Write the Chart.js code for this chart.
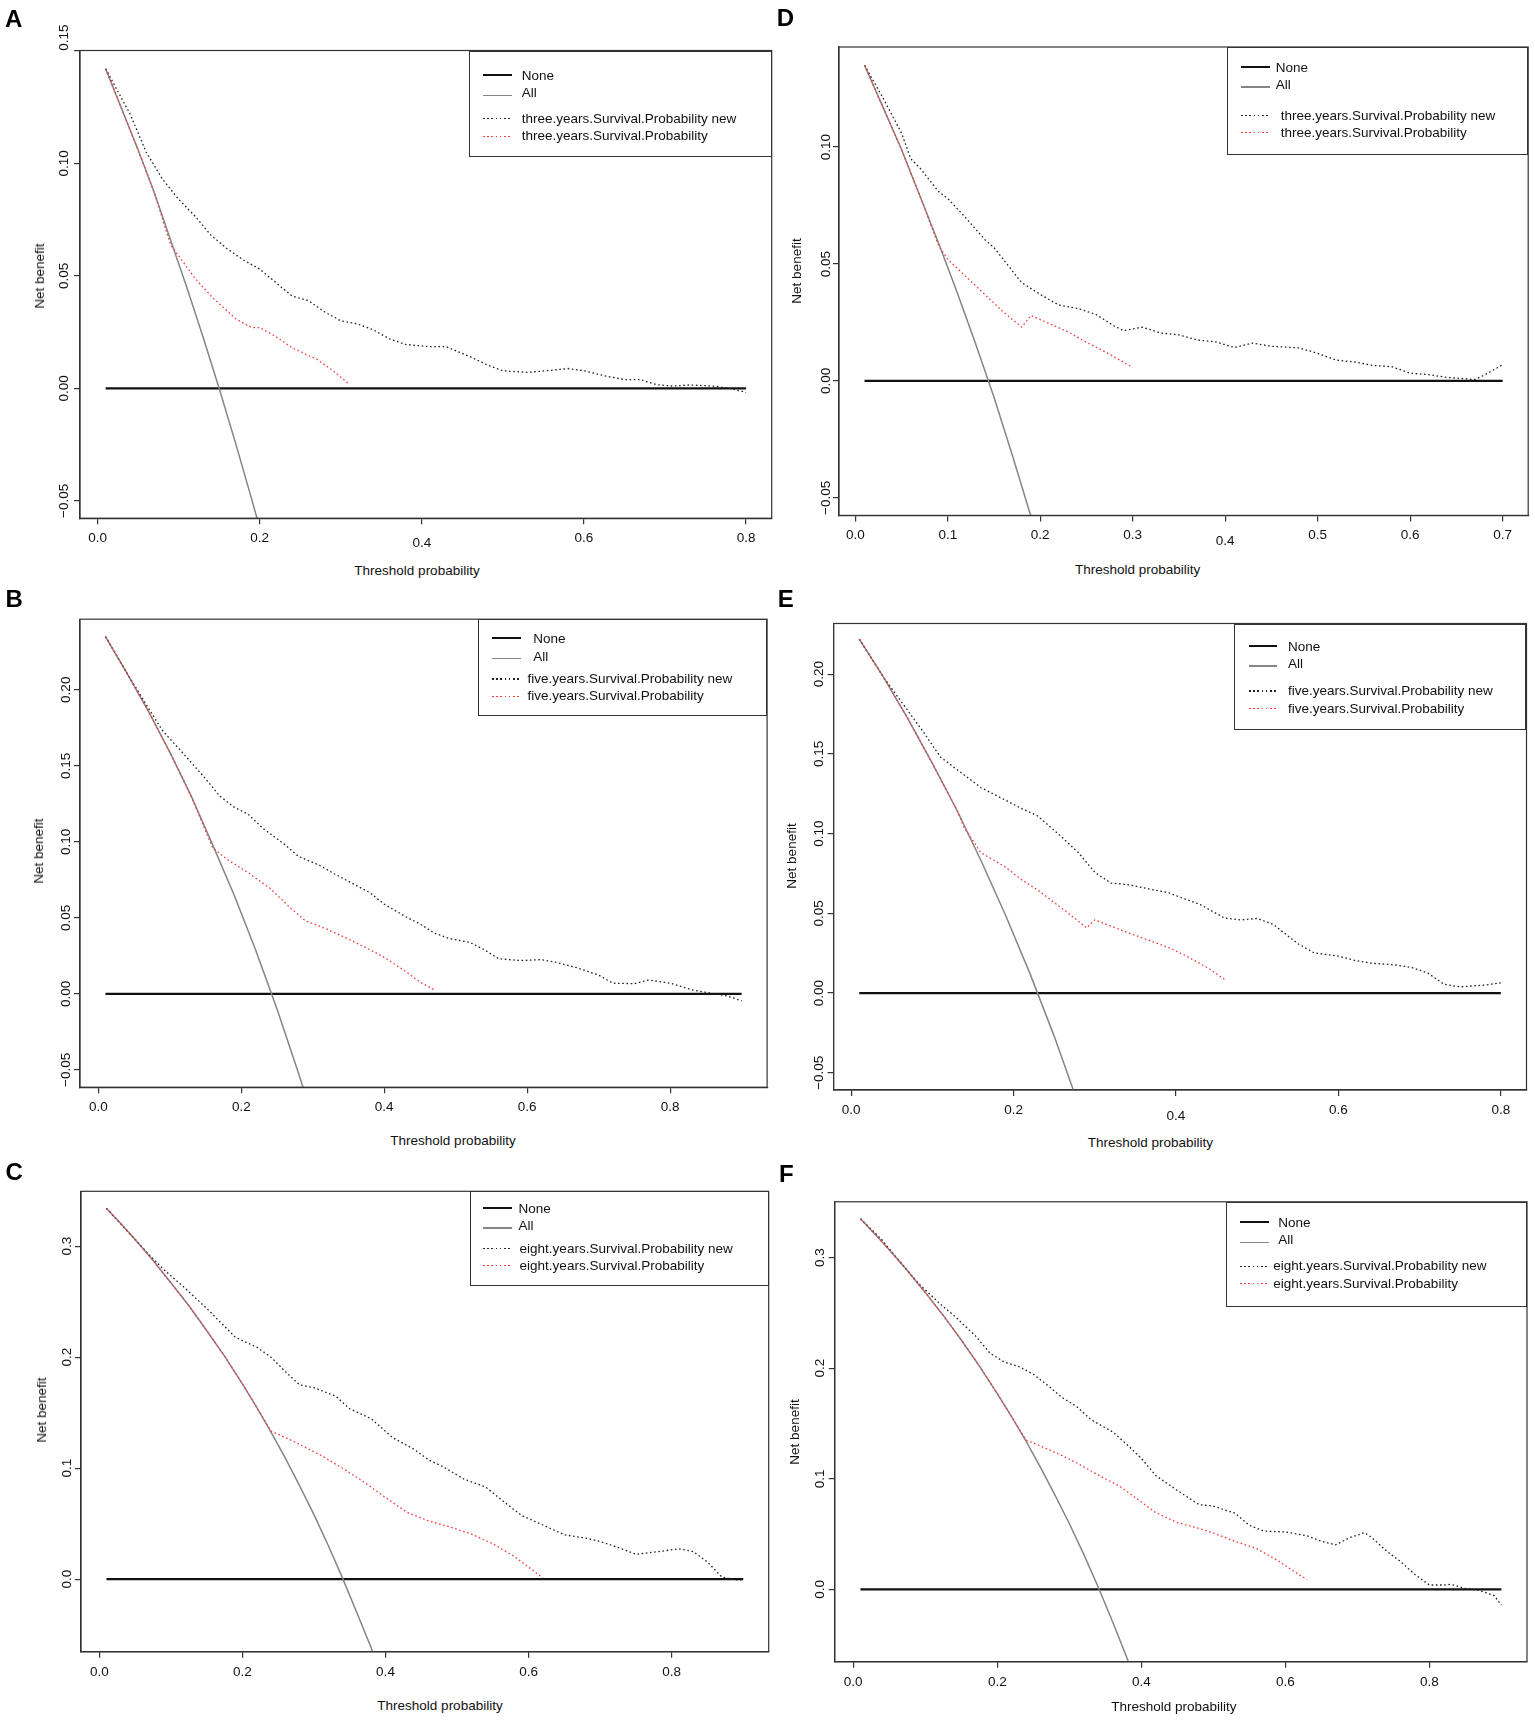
<!DOCTYPE html>
<html><head><meta charset="utf-8">
<script src="https://cdn.jsdelivr.net/npm/chart.js@4.4.1/dist/chart.umd.min.js"></script>
<style>
html,body{margin:0;padding:0;background:#fff;}
#page{position:relative;width:1535px;height:1720px;overflow:hidden;background:#fff;font-family:"Liberation Sans",Arial,Helvetica,sans-serif;color:#111;}
canvas{position:absolute;}
.lbl{position:absolute;white-space:nowrap;font-size:13.5px;line-height:16px;}
.letter{position:absolute;font-weight:bold;font-size:24px;line-height:24px;color:#000;}
.leg{position:absolute;border:1.3px solid #333;box-sizing:border-box;}
.ln{position:absolute;}
</style></head><body><div id="page"></div>
<script>
// ---------- tick labels ----------
const xTicks08 = [0, 0.2, 0.4, 0.6, 0.8];
const xTicks07 = [0, 0.1, 0.2, 0.3, 0.4, 0.5, 0.6, 0.7];
const yTicksA = [-0.05, 0, 0.05, 0.10, 0.15];
const yTicksD = [-0.05, 0, 0.05, 0.10];
const yTicksBE = [-0.05, 0, 0.05, 0.10, 0.15, 0.20];
const yTicksCF = [0, 0.1, 0.2, 0.3];

// ---------- legend labels ----------
const legend3y = ['None', 'All', 'three.years.Survival.Probability new', 'three.years.Survival.Probability'];
const legend5y = ['None', 'All', 'five.years.Survival.Probability new', 'five.years.Survival.Probability'];
const legend8y = ['None', 'All', 'eight.years.Survival.Probability new', 'eight.years.Survival.Probability'];

// ---------- panel A ----------
const thrA_none = [0.01, 0.80];
const nbA_none = [0, 0];
const thrA_all = [0.01,0.03,0.05,0.07,0.09,0.11,0.13,0.15,0.17,0.19,0.21];
const nbA_all = [0.142,0.124,0.106,0.087,0.066,0.045,0.023,0.000,-0.024,-0.049,-0.075];
const thrA_old = [0.01,0.03,0.05,0.07,0.09,0.10,0.12,0.14,0.17,0.19,0.20,0.22,0.24,0.27,0.29,0.31];
const nbA_old = [0.142,0.124,0.106,0.087,0.064,0.059,0.049,0.041,0.031,0.027,0.027,0.023,0.018,0.013,0.008,0.002];
const thrA_new = [0.01,0.04,0.06,0.08,0.10,0.12,0.14,0.16,0.18,0.20,0.22,0.24,0.26,0.28,0.30,0.32,0.34,0.36,0.38,0.41,0.43,0.46,0.48,0.50,0.53,0.56,0.58,0.60,0.63,0.65,0.67,0.69,0.71,0.73,0.76,0.78,0.80];
const nbA_new = [0.142,0.122,0.105,0.093,0.084,0.0766,0.068,0.062,0.057,0.053,0.047,0.041,0.039,0.034,0.030,0.0287,0.026,0.022,0.0195,0.0185,0.0185,0.014,0.0105,0.0078,0.0071,0.008,0.0088,0.0078,0.0052,0.0039,0.0039,0.0016,0.001,0.0015,0.001,0.0,-0.0018];

// ---------- panel B ----------
const thrB_none = [0.01, 0.90];
const nbB_none = [0, 0];
const thrB_all = [0.01,0.04,0.07,0.10,0.13,0.16,0.19,0.22,0.25,0.28,0.31];
const nbB_all = [0.235,0.211,0.186,0.159,0.130,0.098,0.065,0.029,-0.010,-0.052,-0.097];
const thrB_old = [0.01,0.04,0.07,0.10,0.13,0.16,0.18,0.21,0.24,0.27,0.29,0.32,0.35,0.38,0.40,0.43,0.45,0.47];
const nbB_old = [0.235,0.211,0.186,0.159,0.130,0.096,0.0885,0.0796,0.0695,0.056,0.048,0.0425,0.036,0.029,0.024,0.0147,0.0078,0.0026];
const thrB_new = [0.01,0.04,0.07,0.09,0.12,0.15,0.17,0.19,0.21,0.23,0.26,0.28,0.31,0.33,0.36,0.38,0.40,0.43,0.45,0.47,0.49,0.52,0.54,0.56,0.59,0.62,0.64,0.67,0.70,0.72,0.75,0.77,0.80,0.83,0.86,0.88,0.90];
const nbB_new = [0.235,0.211,0.188,0.173,0.1575,0.1415,0.130,0.1228,0.118,0.109,0.0985,0.0904,0.0844,0.079,0.0715,0.0665,0.059,0.0507,0.046,0.040,0.0365,0.0338,0.029,0.0231,0.0219,0.0225,0.0208,0.0171,0.0123,0.007,0.0067,0.0091,0.007,0.0026,0.0002,-0.0014,-0.0046];

// ---------- panel C ----------
const thrC_none = [0.01, 0.90];
const nbC_none = [0, 0];
const thrC_all = [0.01,0.03,0.05,0.075,0.10,0.125,0.15,0.175,0.20,0.22,0.24,0.26,0.28,0.30,0.32,0.34,0.36,0.38,0.40];
const nbC_all = [0.334,0.3203,0.306,0.2872,0.267,0.2465,0.224,0.2009,0.176,0.1547,0.1325,0.1091,0.084,0.0581,0.0304,0.001,-0.0302,-0.0617,-0.099];
const thrC_old = [0.01,0.03,0.05,0.075,0.10,0.125,0.15,0.175,0.20,0.22,0.24,0.27,0.31,0.34,0.37,0.40,0.43,0.46,0.49,0.52,0.55,0.58,0.60,0.62];
const nbC_old = [0.334,0.3203,0.306,0.2872,0.267,0.2465,0.224,0.2009,0.176,0.1547,0.1335,0.1246,0.1115,0.0999,0.0875,0.0735,0.0603,0.0525,0.0471,0.0406,0.032,0.0205,0.0109,0.001];
const thrC_new = [0.01,0.04,0.07,0.09,0.12,0.15,0.17,0.19,0.22,0.24,0.26,0.28,0.30,0.33,0.35,0.38,0.41,0.44,0.46,0.48,0.51,0.54,0.57,0.59,0.62,0.65,0.68,0.70,0.73,0.75,0.78,0.81,0.83,0.85,0.87,0.89,0.90];
const nbC_new = [0.334,0.313,0.292,0.279,0.262,0.244,0.231,0.218,0.209,0.200,0.187,0.175,0.1725,0.165,0.1535,0.1445,0.1275,0.117,0.1075,0.1015,0.090,0.083,0.0675,0.0575,0.0488,0.040,0.037,0.034,0.0274,0.0224,0.0247,0.0274,0.0249,0.0155,0.002,-0.0007,-0.0007];

// ---------- panel D ----------
const thrD_none = [0.01, 0.70];
const nbD_none = [0, 0];
const thrD_all = [0.01,0.03,0.05,0.07,0.09,0.11,0.13,0.15,0.17,0.19,0.21];
const nbD_all = [0.135,0.117,0.099,0.079,0.059,0.038,0.016,-0.007,-0.032,-0.058,-0.084];
const thrD_old = [0.01,0.03,0.05,0.07,0.09,0.10,0.12,0.14,0.16,0.18,0.19,0.21,0.23,0.25,0.27,0.30];
const nbD_old = [0.135,0.117,0.099,0.079,0.058,0.052,0.0445,0.037,0.0295,0.023,0.028,0.0245,0.021,0.0165,0.0125,0.0058];
const thrD_new = [0.01,0.03,0.05,0.06,0.07,0.09,0.10,0.12,0.14,0.15,0.16,0.18,0.20,0.21,0.22,0.24,0.26,0.28,0.29,0.31,0.33,0.35,0.37,0.39,0.41,0.43,0.45,0.48,0.50,0.52,0.54,0.56,0.58,0.60,0.62,0.64,0.67,0.68,0.70];
const nbD_new = [0.135,0.121,0.106,0.095,0.091,0.081,0.078,0.0695,0.0605,0.057,0.052,0.042,0.037,0.0347,0.0325,0.031,0.0285,0.0235,0.0215,0.023,0.0205,0.0197,0.0175,0.0167,0.0143,0.0162,0.0148,0.0141,0.0118,0.0089,0.0081,0.0066,0.0061,0.0033,0.0027,0.0015,0.0006,0.0025,0.0069];

// ---------- panel E ----------
const thrE_none = [0.01, 0.80];
const nbE_none = [0, 0];
const thrE_all = [0.01,0.04,0.07,0.10,0.13,0.16,0.19,0.22,0.25,0.28,0.31];
const nbE_all = [0.222,0.198,0.172,0.144,0.115,0.083,0.049,0.0125,-0.027,-0.070,-0.116];
const thrE_old = [0.01,0.04,0.07,0.10,0.13,0.14,0.16,0.19,0.21,0.23,0.26,0.28,0.29,0.30,0.32,0.34,0.37,0.39,0.41,0.44,0.46];
const nbE_old = [0.222,0.198,0.172,0.144,0.115,0.103,0.088,0.079,0.071,0.0645,0.053,0.045,0.0408,0.0459,0.042,0.038,0.0325,0.0287,0.024,0.0155,0.0085];
const thrE_new = [0.01,0.04,0.07,0.09,0.11,0.14,0.16,0.19,0.21,0.23,0.26,0.28,0.30,0.32,0.34,0.37,0.39,0.41,0.43,0.46,0.48,0.50,0.52,0.55,0.57,0.60,0.62,0.64,0.67,0.69,0.71,0.73,0.75,0.78,0.80];
const nbE_new = [0.222,0.198,0.177,0.163,0.148,0.1365,0.1288,0.121,0.1157,0.111,0.0975,0.088,0.0757,0.069,0.0681,0.065,0.0631,0.0592,0.0555,0.047,0.0459,0.0468,0.043,0.031,0.0252,0.0232,0.0205,0.0188,0.0176,0.0161,0.0126,0.0055,0.0039,0.005,0.0064];

// ---------- panel F ----------
const thrF_none = [0.01, 0.90];
const nbF_none = [0, 0];
const thrF_all = [0.01,0.03,0.05,0.075,0.10,0.125,0.15,0.175,0.20,0.22,0.24,0.26,0.28,0.30,0.32,0.34,0.36,0.38,0.40];
const nbF_all = [0.335,0.3213,0.307,0.2883,0.2685,0.2477,0.2255,0.2021,0.177,0.156,0.134,0.1104,0.0855,0.0596,0.0319,0.0025,-0.029,-0.0617,-0.097];
const thrF_old = [0.01,0.03,0.05,0.075,0.10,0.125,0.15,0.175,0.20,0.22,0.24,0.26,0.29,0.31,0.34,0.37,0.40,0.42,0.45,0.48,0.50,0.53,0.56,0.59,0.61,0.63];
const nbF_old = [0.335,0.3213,0.307,0.2883,0.2685,0.2477,0.2255,0.2021,0.177,0.156,0.135,0.1297,0.121,0.1145,0.1035,0.0933,0.079,0.0695,0.0605,0.0552,0.051,0.0435,0.037,0.026,0.0172,0.0089];
const thrF_new = [0.01,0.04,0.06,0.09,0.12,0.14,0.17,0.19,0.21,0.23,0.25,0.27,0.29,0.31,0.33,0.36,0.38,0.40,0.42,0.45,0.48,0.50,0.53,0.55,0.57,0.60,0.63,0.65,0.67,0.69,0.71,0.72,0.74,0.76,0.78,0.80,0.82,0.83,0.85,0.87,0.89,0.90];
const nbF_new = [0.335,0.316,0.300,0.277,0.2585,0.2475,0.229,0.2135,0.2055,0.2015,0.1945,0.1845,0.1735,0.1655,0.1535,0.1425,0.131,0.1185,0.103,0.0895,0.0767,0.0753,0.069,0.058,0.0528,0.0519,0.0486,0.0435,0.0404,0.047,0.0513,0.047,0.035,0.0252,0.0135,0.004,0.004,0.0046,0.0009,-0.001,-0.0055,-0.0142];

// ---------- styles ----------
const FONT = '"Liberation Sans", Arial, Helvetica, sans-serif';
const AXIS = '#333333';
const C_NONE = '#111111', C_ALL = '#858585', C_NEW = '#222222', C_OLD = '#f03c3c';
const DOT = [1.6, 2.6];

// ---------- layout (positions only) ----------
const panels = [
  { letter:'A', lx:5, lbase:27, box:{l:80.0,t:50.5,r:771.7,b:518.2}, xlim:[-0.0216,0.8316], ylim:[-0.0577,0.1501],
    xTicks:xTicks08, yTicks:yTicksA, yDec:2, yGap:15.5, xShift:{v:0.4,dy:5}, yShift:{v:0.15,dy:-13},
    xTitle:[417,571], yTitle:[39.5,276], names:legend3y,
    leg:{L:469,T:50.5,R:771.7,B:157.3,rows:[76,93.4,118.8,136.2],lx:[482.7,512.3],tx:[521.7,521.7]},
    d:{none:[thrA_none,nbA_none], all:[thrA_all,nbA_all], old:[thrA_old,nbA_old], nw:[thrA_new,nbA_new]} },
  { letter:'B', lx:5.5, lbase:607.5, box:{l:80.0,t:619.2,r:767.1,b:1087.2}, xlim:[-0.0256,0.9356], ylim:[-0.0614,0.2464],
    xTicks:xTicks08, yTicks:yTicksBE, yDec:2, yGap:13.5, xShift:null, yShift:null,
    xTitle:[453,1141.3], yTitle:[39,851], names:legend5y,
    leg:{L:477.5,T:619.2,R:767.1,B:716.3,rows:[639.2,656.7,679,696.2],lx:[491.7,521],tx:[533.3,527.4]},
    d:{none:[thrB_none,nbB_none], all:[thrB_all,nbB_all], old:[thrB_old,nbB_old], nw:[thrB_new,nbB_new]} },
  { letter:'C', lx:5.5, lbase:1180.5, box:{l:81.0,t:1191.3,r:768.7,b:1651.8}, xlim:[-0.0256,0.9356], ylim:[-0.0654,0.3494],
    xTicks:xTicks08, yTicks:yTicksCF, yDec:1, yGap:13.5, xShift:null, yShift:null,
    xTitle:[440,1706], yTitle:[41.6,1409.6], names:legend8y,
    leg:{L:469.7,T:1191.3,R:768.7,B:1285.8,rows:[1209,1225.8,1248.5,1265.7],lx:[483.4,512.2],tx:[518.6,519.6]},
    d:{none:[thrC_none,nbC_none], all:[thrC_all,nbC_all], old:[thrC_old,nbC_old], nw:[thrC_new,nbC_new]} },
  { letter:'D', lx:776.8, lbase:26.3, box:{l:839.0,t:47.0,r:1528.2,b:515.4}, xlim:[-0.0176,0.7276], ylim:[-0.0575,0.1428],
    xTicks:xTicks07, yTicks:yTicksD, yDec:2, yGap:13, xShift:{v:0.4,dy:6}, yShift:null,
    xTitle:[1137.6,570.2], yTitle:[797.3,270.5], names:legend3y,
    leg:{L:1226.9,T:47.0,R:1528.2,B:154.6,rows:[68,85.2,115.5,132.7],lx:[1240.6,1269.9],tx:[1275.8,1280.7]},
    d:{none:[thrD_none,nbD_none], all:[thrD_all,nbD_all], old:[thrD_old,nbD_old], nw:[thrD_new,nbD_new]} },
  { letter:'E', lx:777.8, lbase:606.8, box:{l:833.6,t:623.5,r:1526.5,b:1090.0}, xlim:[-0.0216,0.8316], ylim:[-0.0608,0.2318],
    xTicks:xTicks08, yTicks:yTicksBE, yDec:2, yGap:14.6, xShift:{v:0.4,dy:6}, yShift:null,
    xTitle:[1150.3,1143.2], yTitle:[792.4,856.3], names:legend5y,
    leg:{L:1234.2,T:623.5,R:1526.5,B:730.2,rows:[646.8,664,691,708.6],lx:[1248.9,1277.3],tx:[1288,1288]},
    d:{none:[thrE_none,nbE_none], all:[thrE_all,nbE_all], old:[thrE_old,nbE_old], nw:[thrE_new,nbE_new]} },
  { letter:'F', lx:779, lbase:1182, box:{l:834.8,t:1201.8,r:1527.0,b:1661.8}, xlim:[-0.0256,0.9356], ylim:[-0.0654,0.3504],
    xTicks:xTicks08, yTicks:yTicksCF, yDec:1, yGap:14.5, xShift:null, yShift:null,
    xTitle:[1173.8,1707.2], yTitle:[794.9,1431.5], names:legend8y,
    leg:{L:1225.9,T:1201.8,R:1527.0,B:1307,rows:[1223.2,1240.4,1266.4,1283.6],lx:[1239.6,1269],tx:[1278.3,1273.3]},
    d:{none:[thrF_none,nbF_none], all:[thrF_all,nbF_all], old:[thrF_old,nbF_old], nw:[thrF_new,nbF_new]} }
];

Chart.defaults.font.family = FONT;
Chart.defaults.color = '#111';

const page = document.getElementById('page');
const pts = (xs, ys) => xs.map((x, i) => ({ x: x, y: ys[i] }));
const fmt = (v, dec) => (v < -1e-12 ? '\u2212' : '') + Math.abs(v).toFixed(dec);

const plotBox = {
  id: 'plotBox',
  afterDatasetsDraw(chart) {
    const { ctx, chartArea: a } = chart;
    ctx.save();
    ctx.strokeStyle = AXIS; ctx.lineWidth = 1.2;
    ctx.strokeRect(a.left, a.top, a.right - a.left, a.bottom - a.top);
    ctx.restore();
  }
};

const labelTuner = {
  id: 'labelTuner',
  beforeDraw(chart, args, o) {
    const a = chart.chartArea, xs = chart.scales.x, ys = chart.scales.y;
    xs.getLabelItems(a).forEach((it, i) => {
      if (!it._orig) it._orig = it.options.translation.slice();
      const v = xs.ticks[i] ? xs.ticks[i].value : null;
      const dy = (o.xShift && v !== null && Math.abs(v - o.xShift.v) < 1e-9) ? o.xShift.dy : 0;
      it.options.translation = [it._orig[0], it._orig[1] + dy];
    });
    ys.getLabelItems(a).forEach((it, i) => {
      const v = ys.ticks[i].value;
      const dy = (o.yShift && Math.abs(v - o.yShift.v) < 1e-9) ? o.yShift.dy : 0;
      it.options.translation = [a.left - o.yGap, ys.getPixelForValue(v) + dy];
      it.options.rotation = -Math.PI / 2;
      it.options.textAlign = 'center';
      it.options.textBaseline = 'middle';
      it.textOffset = 0;
    });
  }
};

function addText(cls, txt, left, top, extraStyle) {
  const s = document.createElement('div');
  s.className = cls; s.textContent = txt;
  s.style.left = left + 'px'; s.style.top = top + 'px';
  if (extraStyle) Object.assign(s.style, extraStyle);
  page.appendChild(s);
  return s;
}
function addLine(x0, x1, y, h, bg) {
  const e = document.createElement('div');
  e.className = 'ln';
  e.style.left = x0 + 'px'; e.style.width = (x1 - x0) + 'px';
  e.style.top = (y - h / 2) + 'px'; e.style.height = h + 'px';
  e.style.background = bg;
  page.appendChild(e);
}

function build(p) {
  const b = p.box;
  const CL = Math.floor(b.l) - 62, CT = Math.floor(b.t) - 36;
  const W = Math.ceil(b.r) + 6 - CL, H = Math.ceil(b.b) + 44 - CT;
  const c = document.createElement('canvas');
  c.width = W; c.height = H;
  c.style.left = CL + 'px'; c.style.top = CT + 'px';
  c.style.width = W + 'px'; c.style.height = H + 'px';
  page.appendChild(c);
  const yW = b.l - CL, xH = CT + H - b.b;
  const tickFont = { family: FONT, size: 13.5 };
  const common = () => ({
    grid: { drawOnChartArea: false, drawTicks: true, tickLength: 6, color: AXIS, lineWidth: 1.2 },
    border: { display: true, color: AXIS, width: 1.2 }
  });
  new Chart(c, {
    type: 'line',
    data: {
      datasets: [
        { label: p.names[3], data: pts(p.d.old[0], p.d.old[1]), borderColor: C_OLD, borderWidth: 1.3, borderDash: DOT },
        { label: p.names[2], data: pts(p.d.nw[0], p.d.nw[1]), borderColor: C_NEW, borderWidth: 1.3, borderDash: DOT },
        { label: p.names[1], data: pts(p.d.all[0], p.d.all[1]), borderColor: C_ALL, borderWidth: 1.5 },
        { label: p.names[0], data: pts(p.d.none[0], p.d.none[1]), borderColor: C_NONE, borderWidth: 2.3 }
      ]
    },
    options: {
      responsive: false, animation: false, events: [],
      elements: { point: { radius: 0, hoverRadius: 0 }, line: { tension: 0, fill: false, borderCapStyle: 'butt' } },
      layout: { autoPadding: false, padding: { left: 0, top: b.t - CT, right: CL + W - b.r, bottom: 0 } },
      plugins: {
        legend: { display: false }, tooltip: { enabled: false },
        labelTuner: { xShift: p.xShift, yShift: p.yShift, yGap: p.yGap }
      },
      scales: {
        x: Object.assign(common(), {
          type: 'linear', position: 'bottom', min: p.xlim[0], max: p.xlim[1],
          afterBuildTicks: s => { s.ticks = p.xTicks.map(v => ({ value: v })); },
          afterFit: s => { s.height = xH; s.paddingLeft = 0; s.paddingRight = 0; s.paddingTop = 0; s.paddingBottom = 0; },
          ticks: { autoSkip: false, maxRotation: 0, minRotation: 0, padding: 6, color: '#111', font: tickFont,
                   callback: v => fmt(v, 1) }
        }),
        y: Object.assign(common(), {
          type: 'linear', position: 'left', min: p.ylim[0], max: p.ylim[1],
          afterBuildTicks: s => { s.ticks = p.yTicks.map(v => ({ value: v })); },
          afterFit: s => { s.width = yW; s.paddingLeft = 0; s.paddingRight = 0; s.paddingTop = 0; s.paddingBottom = 0; },
          ticks: { autoSkip: false, padding: 4, color: '#111', font: tickFont,
                   callback: v => fmt(v, p.yDec) }
        })
      }
    },
    plugins: [plotBox, labelTuner]
  });

  addText('letter', p.letter, p.lx, p.lbase - 20.3);
  addText('lbl', 'Threshold probability', p.xTitle[0], p.xTitle[1] - 8, { transform: 'translateX(-50%)' });
  addText('lbl', 'Net benefit', p.yTitle[0], p.yTitle[1], { transform: 'translate(-50%,-50%) rotate(-90deg)' });
  const L = p.leg;
  const box = document.createElement('div');
  box.className = 'leg';
  box.style.left = L.L + 'px'; box.style.top = L.T + 'px';
  box.style.width = (L.R - L.L) + 'px'; box.style.height = (L.B - L.T) + 'px';
  page.appendChild(box);
  addLine(L.lx[0], L.lx[1], L.rows[0] - 1, 2.3, C_NONE);
  addLine(L.lx[0], L.lx[1], L.rows[1] + 2, 1.5, C_ALL);
  addLine(L.lx[0], L.lx[1], L.rows[2], 1.3, 'repeating-linear-gradient(90deg,' + C_NEW + ' 0 1.6px, transparent 1.6px 4.2px)');
  addLine(L.lx[0], L.lx[1], L.rows[3], 1.3, 'repeating-linear-gradient(90deg,' + C_OLD + ' 0 1.6px, transparent 1.6px 4.2px)');
  p.names.forEach((n, i) => addText('lbl', n, i < 2 ? L.tx[0] : L.tx[1], L.rows[i] - 8));
}

panels.forEach(build);
</script>
</body></html>
